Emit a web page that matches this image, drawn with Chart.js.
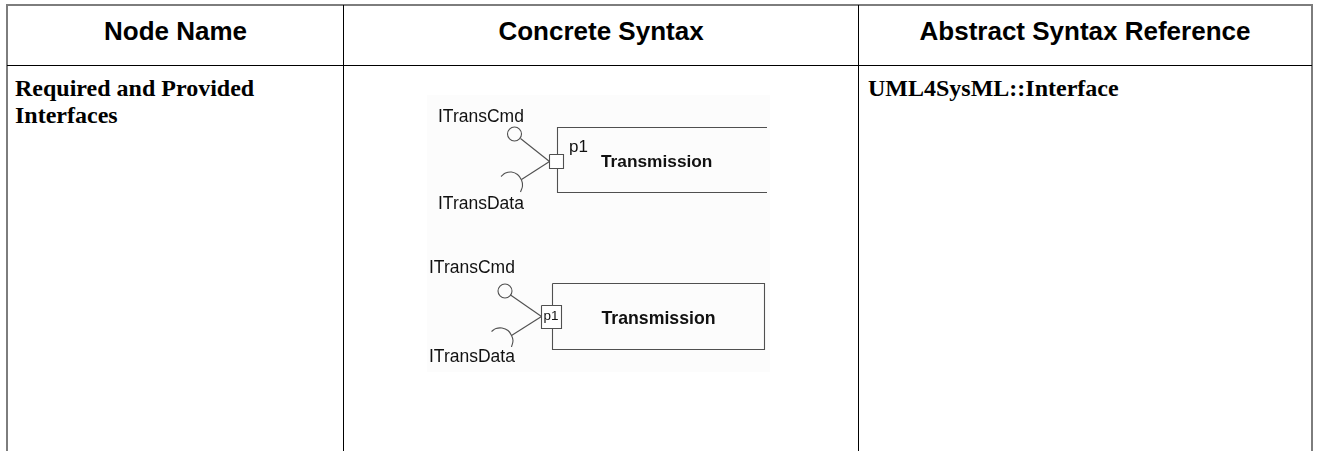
<!DOCTYPE html>
<html>
<head>
<meta charset="utf-8">
<script src="https://cdn.jsdelivr.net/npm/chart.js@4"></script>
<style>
  html, body { margin:0; padding:0; background:#fff; width:1317px; height:451px; overflow:hidden; }
  .ln { position:absolute; }
  .hdr { position:absolute; top:16px; height:30px; line-height:30px; text-align:center;
         font-family:"Liberation Sans", Arial, sans-serif; font-weight:bold; font-size:26px; color:#000; white-space:nowrap; }
  .cell { position:absolute; top:75px; line-height:26.5px; font-family:"Liberation Serif", "Times New Roman", serif;
          font-weight:bold; font-size:24px; color:#000; white-space:nowrap; }
  #bgpanel { position:absolute; left:427px; top:95px; width:343px; height:277px; background:#fcfcfc; }
  #diagram { position:absolute; left:420px; top:90px; }
</style>
</head>
<body>
<!-- table rules -->
<div class="ln" style="left:6px;top:4px;width:1307px;height:2px;background:#7d7d7d"></div>
<div class="ln" style="left:6px;top:4px;width:2px;height:447px;background:#7d7d7d"></div>
<div class="ln" style="left:1311px;top:4px;width:2px;height:447px;background:#7d7d7d"></div>
<div class="ln" style="left:7px;top:65px;width:1305px;height:1px;background:#000"></div>
<div class="ln" style="left:343px;top:5px;width:1px;height:446px;background:#000"></div>
<div class="ln" style="left:858px;top:5px;width:1px;height:446px;background:#000"></div>

<div class="hdr" style="left:8px;width:335px">Node Name</div>
<div class="hdr" style="left:344px;width:514px">Concrete Syntax</div>
<div class="hdr" style="left:859px;width:452px">Abstract Syntax Reference</div>

<div class="cell" style="left:15px">Required and Provided<br>Interfaces</div>
<div class="cell" style="left:868px">UML4SysML::Interface</div>

<div id="bgpanel"></div>
<canvas id="diagram" width="360" height="290"></canvas>

<script>
// ---- diagram geometry, in page pixel units ----
// Diagram 1 : block with port p1 outside label
const box1X = [767, 557.5, 557.5, 767];
const box1Y = [127.5, 127.5, 192.5, 192.5];
const port1X = [549.5, 563.5, 563.5, 549.5, 549.5];
const port1Y = [154.5, 154.5, 168.5, 168.5, 154.5];
const lolly1X = [520.5, 549.5];
const lolly1Y = [138.5, 161.5];
const sockLine1X = [549.5, 521.5];
const sockLine1Y = [161.5, 179.5];
const arc1X = [501, 505.5, 511.5, 517.5, 521.5, 522.5, 520.5];
const arc1Y = [176.5, 173, 172, 174.5, 180, 186, 192];
const ball1X = [514.5];
const ball1Y = [134];

// Diagram 2 : block with port p1 inside label
const box2X = [552.5, 764.5, 764.5, 552.5, 552.5];
const box2Y = [283.5, 283.5, 349.5, 349.5, 283.5];
const port2X = [541.5, 561.5, 561.5, 541.5, 541.5];
const port2Y = [305.5, 305.5, 328.5, 328.5, 305.5];
const lolly2X = [510.5, 541.5];
const lolly2Y = [295, 316.5];
const sockLine2X = [541.5, 511.5];
const sockLine2Y = [316.5, 335.5];
const arc2X = [491.5, 496, 502, 508, 511.5, 513, 511.5];
const arc2Y = [331.5, 328.5, 328, 330.5, 335.5, 340.5, 347];
const ball2X = [505];
const ball2Y = [291];

// labels
const labelText = ['ITransCmd', 'p1', 'Transmission', 'ITransData', 'ITransCmd', 'p1', 'Transmission', 'ITransData'];
const labelX    = [438, 569, 601, 438, 429, 543.5, 601.5, 429];
const labelY    = [122, 151.5, 166.5, 209, 273, 320, 323.5, 361.5];
const labelBold = [false, false, true, false, false, false, true, false];
const labelSize = [17.5, 17, 17.3, 17.5, 17.5, 13.5, 17.7, 17.5];

const LINE = '#505050';
function pts(xs, ys) { return xs.map((x, i) => ({ x: x, y: ys[i] })); }
function path(xs, ys, tension) {
  return { data: pts(xs, ys), showLine: true, borderColor: LINE, borderWidth: 1.1,
           pointRadius: 0, fill: false, tension: tension || 0 };
}
function port(xs, ys) {
  return { data: pts(xs, ys), showLine: true, borderColor: LINE, borderWidth: 1.1,
           pointRadius: 0, fill: 'shape', backgroundColor: '#ffffff', tension: 0 };
}
function ball(xs, ys) {
  return { data: pts(xs, ys), showLine: false, pointStyle: 'circle', pointRadius: 7,
           pointBorderWidth: 1.1, pointBorderColor: LINE, pointBackgroundColor: 'rgba(0,0,0,0)' };
}

const labelPlugin = {
  id: 'labels',
  afterDatasetsDraw(chart) {
    const ctx = chart.ctx, xs = chart.scales.x, ys = chart.scales.y;
    ctx.save();
    ctx.fillStyle = '#111';
    ctx.textBaseline = 'alphabetic';
    ctx.textAlign = 'left';
    labelText.forEach((t, i) => {
      ctx.font = (labelBold[i] ? 'bold ' : '') + labelSize[i] + 'px "Liberation Sans", Arial, sans-serif';
      ctx.fillText(t, xs.getPixelForValue(labelX[i]), ys.getPixelForValue(labelY[i]));
    });
    ctx.restore();
  }
};

// lower index is drawn on top: ports first so they cover the block edges
new Chart(document.getElementById('diagram'), {
  type: 'scatter',
  data: {
    datasets: [
      port(port1X, port1Y), port(port2X, port2Y),
      path(box1X, box1Y), path(lolly1X, lolly1Y),
      path(sockLine1X, sockLine1Y), path(arc1X, arc1Y, 0.4), ball(ball1X, ball1Y),
      path(box2X, box2Y), path(lolly2X, lolly2Y),
      path(sockLine2X, sockLine2Y), path(arc2X, arc2Y, 0.4), ball(ball2X, ball2Y)
    ]
  },
  options: {
    responsive: false,
    animation: false,
    devicePixelRatio: 1,
    layout: { padding: 0, autoPadding: false },
    plugins: { legend: { display: false }, tooltip: { enabled: false },
               filler: { drawTime: 'beforeDatasetDraw' } },
    events: [],
    scales: {
      x: { type: 'linear', min: 420, max: 780, display: false },
      y: { type: 'linear', min: 90, max: 380, reverse: true, display: false }
    }
  },
  plugins: [labelPlugin]
});
</script>
</body>
</html>
